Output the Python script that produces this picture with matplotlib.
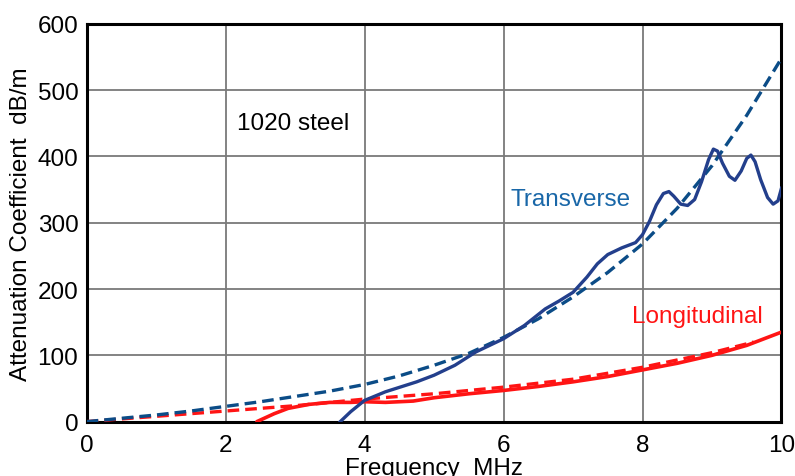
import matplotlib
matplotlib.use("Agg")
import matplotlib.pyplot as plt

plt.rcParams['font.family'] = ['Liberation Sans', 'DejaVu Sans']

# Transverse fitted (dashed)
trans_fit_x = [0, 0.5, 1, 1.5, 2, 2.5, 3, 3.5, 4, 4.5, 5, 5.5, 6, 6.5, 7, 7.5, 8, 8.5, 9, 9.5, 10]
trans_fit_y = [0, 5, 10, 16, 23, 30, 38, 46, 56, 69, 85, 103, 127, 155, 188, 225, 268, 322, 386, 462, 548]

# Transverse measured (solid)
trans_meas_x = [3.65, 3.8, 4.0, 4.3, 4.75, 5.0, 5.3, 5.6, 6.0, 6.3, 6.6, 6.8, 7.0, 7.2, 7.35, 7.5, 7.7, 7.9,
                8.0, 8.1, 8.2, 8.3, 8.38, 8.45, 8.55, 8.65, 8.75, 8.85, 8.95, 9.02, 9.08, 9.15,
                9.25, 9.33, 9.42, 9.5, 9.56, 9.62, 9.7, 9.8, 9.88, 9.95, 10.0]
trans_meas_y = [0, 15, 32, 45, 60, 70, 85, 105, 125, 145, 170, 182, 195, 218, 238, 252, 262, 270,
                282, 302, 327, 344, 347, 340, 328, 326, 335, 362, 395, 411, 408, 390,
                370, 364, 378, 397, 402, 392, 365, 338, 328, 333, 352]

# Longitudinal fitted (dashed)
long_fit_x = [0, 1, 2, 3, 4, 5, 6, 7, 8, 9, 9.6]
long_fit_y = [0, 8, 16, 24, 34, 42, 52, 64, 82, 104, 120]

# Longitudinal measured (solid)
long_meas_x = [2.45, 2.7, 2.9, 3.2, 3.5, 3.8, 4.0, 4.3, 4.7, 5.0, 5.5, 6.0, 6.5, 7.0, 7.5, 8.0, 8.5, 9.0, 9.5, 10.0]
long_meas_y = [0, 12, 20, 26, 29, 29, 30, 29, 31, 36, 42, 47, 53, 60, 68, 78, 88, 100, 115, 135]

x_ticks = [0, 2, 4, 6, 8, 10]
y_ticks = [0, 100, 200, 300, 400, 500, 600]

fig = plt.figure(figsize=(7.95, 4.77), dpi=100)
ax = fig.add_axes([0.109, 0.114, 0.874, 0.834])

blue_solid = '#233f8c'
blue_dash = '#0b4c87'
red = '#ff1414'

ax.plot(long_fit_x, long_fit_y, color=red, lw=2.4, dashes=(3.5, 1.8), zorder=3)
ax.plot(long_meas_x, long_meas_y, color=red, lw=2.6, zorder=3, solid_capstyle='round',
        solid_joinstyle='round')
ax.plot(trans_fit_x, trans_fit_y, color=blue_dash, lw=2.4, dashes=(3.5, 1.8), zorder=4)
ax.plot(trans_meas_x, trans_meas_y, color=blue_solid, lw=2.4, zorder=4, solid_joinstyle='round')

ax.set_xlim(0, 10)
ax.set_ylim(0, 600)
ax.set_xticks(x_ticks)
ax.set_yticks(y_ticks)
ax.grid(True, color='#7a7a7a', lw=1.3)
ax.set_axisbelow(True)
for s in ax.spines.values():
    s.set_linewidth(2.2)
    s.set_color('black')
ax.tick_params(length=0, labelsize=17.5)
ax.tick_params(axis='y', pad=6)
ax.tick_params(axis='x', pad=9)

ax.text(2.97, 450, '1020 steel', fontsize=17.5, ha='center', va='center')
ax.text(6.96, 336, 'Transverse', fontsize=17.5, ha='center', va='center', color='#1967a8')
ax.text(8.79, 159, 'Longitudinal', fontsize=17.5, ha='center', va='center', color=red)

ax.set_xlabel('Frequency  MHz', fontsize=17.5, labelpad=0.5)
ax.set_ylabel('Attenuation Coefficient  dB/m', fontsize=17.5, labelpad=4)

fig.savefig('out.png', dpi=100)
